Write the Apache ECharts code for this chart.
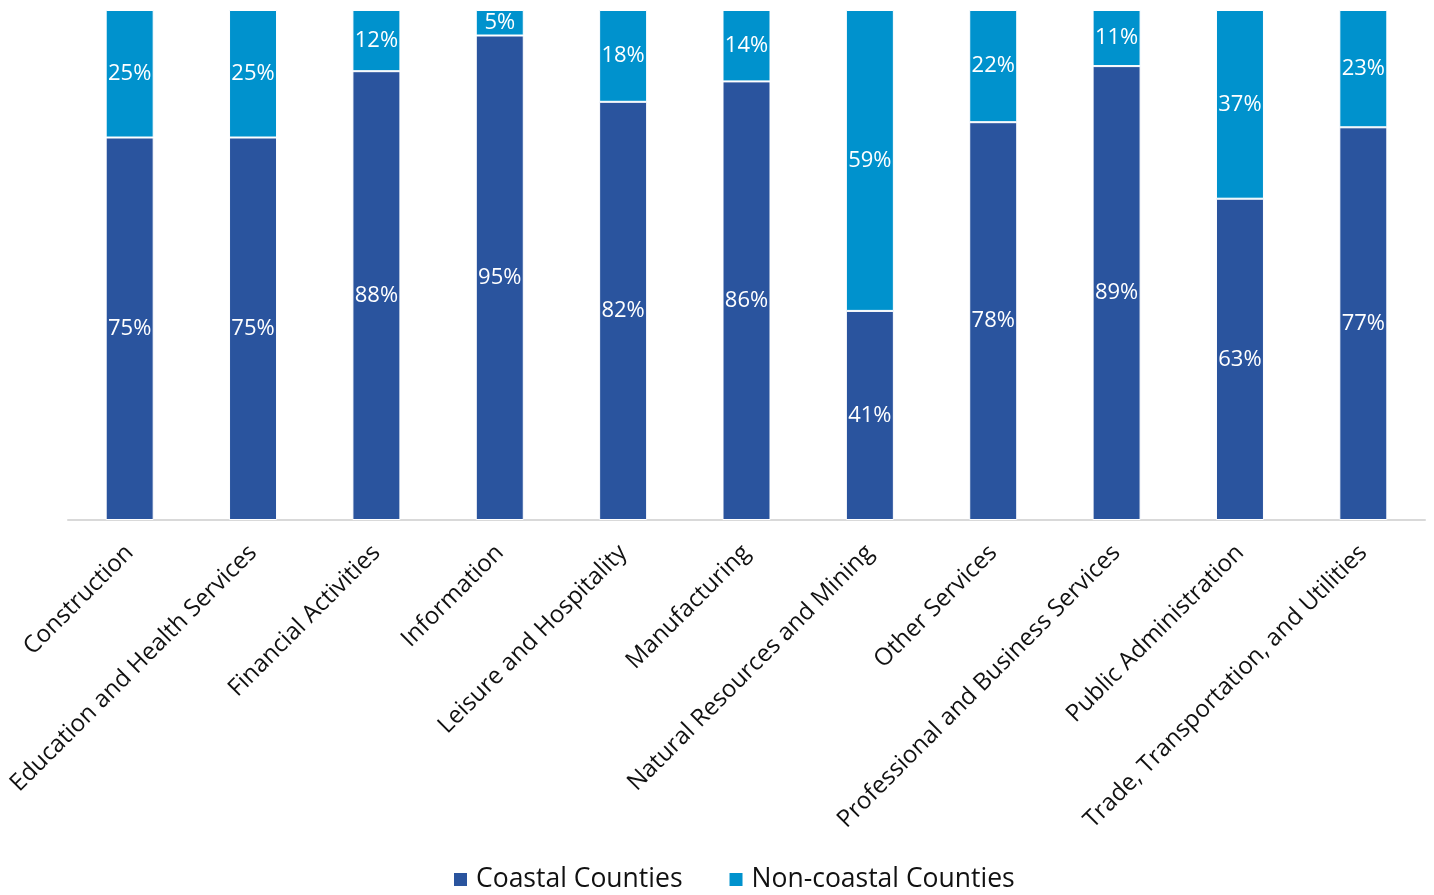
<!DOCTYPE html>
<html>
<head>
<meta charset="utf-8">
<title>Employment share by industry: coastal vs. non-coastal counties</title>
<script src="https://cdn.jsdelivr.net/npm/echarts@6/dist/echarts.min.js"></script>
<style>
  html, body { margin: 0; padding: 0; background: #ffffff; }
  #chart { width: 1434px; height: 895px; }
</style>
</head>
<body>
<div id="chart"></div>
<script>
// Industry categories along the x axis
const industries = [
  'Construction',
  'Education and Health Services',
  'Financial Activities',
  'Information',
  'Leisure and Hospitality',
  'Manufacturing',
  'Natural Resources and Mining',
  'Other Services',
  'Professional and Business Services',
  'Public Administration',
  'Trade, Transportation, and Utilities'
];

// Share of employment (%) in each group of counties
const coastal    = [75, 75, 88, 95, 82, 86, 41, 78, 89, 63, 77];
const nonCoastal = [25, 25, 12,  5, 18, 14, 59, 22, 11, 37, 23];

const seriesNames = ['Coastal Counties', 'Non-coastal Counties'];
const seriesColors = ['#2A549E', '#0092CD'];

const FONT = '"Open Sans", "Noto Sans", sans-serif';

const chart = echarts.init(document.getElementById('chart'), null, { renderer: 'canvas' });

function barSeries(name, values, color) {
  return {
    name: name,
    type: 'bar',
    stack: 'share',
    data: values,
    barWidth: 48,
    itemStyle: { color: color, borderColor: '#ffffff', borderWidth: 1 },
    label: {
      show: true,
      position: 'inside',
      color: '#ffffff',
      fontFamily: FONT,
      fontSize: 22,
      formatter: p => p.value + '%'
    },
    emphasis: { disabled: true }
  };
}

chart.setOption({
  animation: false,
  textStyle: { fontFamily: FONT },
  grid: { left: 68, right: 9, top: 10, bottom: 375, containLabel: false },
  xAxis: {
    type: 'category',
    data: industries,
    axisLine: { show: true, lineStyle: { color: '#d9d9d9', width: 2 } },
    axisTick: { show: false },
    axisLabel: {
      rotate: 45,
      interval: 0,
      margin: 29,
      color: '#111111',
      fontFamily: FONT,
      fontSize: 24
    }
  },
  yAxis: {
    type: 'value',
    min: 0,
    max: 100,
    show: false,
    splitLine: { show: false }
  },
  legend: {
    data: seriesNames,
    top: 861,
    left: 447,
    icon: 'rect',
    itemWidth: 15,
    itemHeight: 15,
    itemGap: 45,
    textStyle: { fontFamily: FONT, fontSize: 26.5, color: '#111111', padding: [0, 0, 0, 3] }
  },
  series: [
    barSeries(seriesNames[0], coastal, seriesColors[0]),
    barSeries(seriesNames[1], nonCoastal, seriesColors[1])
  ]
});
</script>
</body>
</html>
